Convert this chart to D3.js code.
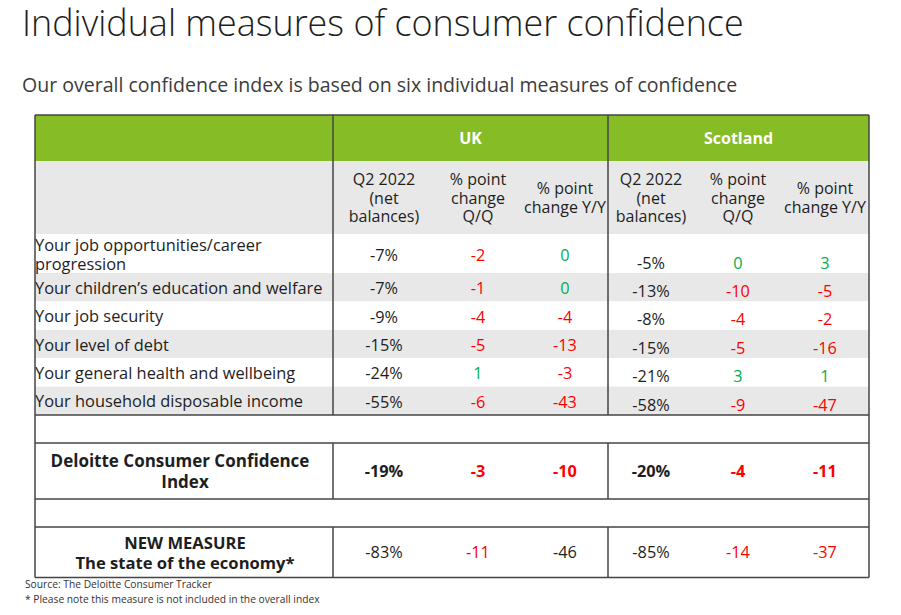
<!DOCTYPE html>
<html><head><meta charset="utf-8">
<script src="https://cdn.jsdelivr.net/npm/d3@7"></script>
<style>html,body{margin:0;padding:0;background:#fff;} svg{display:block;font-family:"Open Sans",sans-serif;}</style>
</head><body><svg id="c" width="901" height="615"></svg>
<script>
// ---------- data ----------
const title = "Individual measures of consumer confidence";
const subtitle = "Our overall confidence index is based on six individual measures of confidence";
const regions = ["UK", "Scotland"];
const columnHeaders = [["Q2 2022", "(net", "balances)"], ["% point", "change", "Q/Q"], ["% point", "change Y/Y"]];
const measures = [
  ["Your job opportunities/career", "progression"],
  ["Your children\u2019s education and welfare"],
  ["Your job security"],
  ["Your level of debt"],
  ["Your general health and wellbeing"],
  ["Your household disposable income"]
];
const ukLevel = [-7, -7, -9, -15, -24, -55];
const ukQQ    = [-2, -1, -4, -5, 1, -6];
const ukYY    = [0, 0, -4, -13, -3, -43];
const scLevel = [-5, -13, -8, -15, -21, -58];
const scQQ    = [0, -10, -4, -5, 3, -9];
const scYY    = [3, -5, -2, -16, 1, -47];
const indexLabel = ["Deloitte Consumer Confidence", "Index"];
const indexUK = [-19, -3, -10];
const indexSC = [-20, -4, -11];
const economyLabel = ["NEW MEASURE", "The state of the economy*"];
const economyUK = [-83, -11, -46];
const economySC = [-85, -14, -37];
const notes = ["Source: The Deloitte Consumer Tracker", "* Please note this measure is not included in the overall index"];

// ---------- layout ----------
const svg = d3.select("#c");
const GREEN = "#86BC25", GRAY = "#E8E8E8", RED = "#FF0000", POS = "#00B050", INK = "#1e1e1e", LINE = "#454545";
const X0 = 35, X1 = 869, XD1 = 333, XD2 = 608;
const Y0 = 115, YG = 161, YH = 234;
const colKeys = ["ukLevel", "ukQQ", "ukYY", "scLevel", "scQQ", "scYY"];
const xCol = d3.scaleOrdinal().domain(colKeys).range([384, 478, 565, 651, 738, 825]);
const xRegion = d3.scaleOrdinal().domain(regions).range([(XD1 + XD2) / 2, (XD2 + X1) / 2]);

// row heights from line counts
const rowH = measures.map(m => 28.4 + 10.6 * (m.length - 1));
const rowTops = [YH, ...d3.cumsum(rowH).map(v => YH + v)];
const yRowTop = d3.scaleOrdinal().domain(d3.range(measures.length)).range(rowTops);
const YD = rowTops[measures.length];          // bottom of data rows
const blank1 = [YD, YD + 28];
const idxRow = [blank1[1], blank1[1] + 56];
const blank2 = [idxRow[1], idxRow[1] + 28];
const ecoRow = [blank2[1], 577.5];

// title
svg.append("text").attr("x", 22).attr("y", 36).attr("font-size", 35.9).attr("font-weight", 300)
  .attr("fill", INK).text(title);
svg.append("text").attr("x", 22).attr("y", 92).attr("font-size", 19.55).attr("font-weight", 400)
  .attr("fill", "#3c3c3c").text(subtitle);

// backgrounds
svg.append("rect").attr("x", X0).attr("y", Y0).attr("width", X1 - X0).attr("height", YG - Y0).attr("fill", GREEN);
svg.append("rect").attr("x", X0).attr("y", YG).attr("width", X1 - X0).attr("height", YH - YG).attr("fill", GRAY);
svg.append("g").selectAll("rect").data(measures).join("rect")
  .attr("x", X0).attr("y", (d, i) => yRowTop(i)).attr("width", X1 - X0).attr("height", (d, i) => rowH[i])
  .attr("fill", (d, i) => i % 2 ? GRAY : "#fff");

// region headers
svg.append("g").selectAll("text").data(regions).join("text")
  .attr("x", d => xRegion(d)).attr("y", (Y0 + YG) / 2).attr("dominant-baseline", "central")
  .attr("text-anchor", "middle").attr("font-size", 16).attr("font-weight", 700).attr("fill", "#fff").text(d => d);

// helper for multi-line centered text (one text element, tspans per line)
function lines(g, arr, x, cy, opts) {
  const lh = opts.lh || 18.5;
  const t = g.append("text").attr("text-anchor", opts.anchor || "middle")
    .attr("font-size", opts.size || 16).attr("font-weight", opts.weight || 400)
    .attr("fill", opts.fill || INK);
  arr.forEach((s, i) => {
    t.append("tspan").attr("x", x + (opts.dx ? opts.dx[i] || 0 : 0))
      .attr("y", cy + (i - (arr.length - 1) / 2) * lh)
      .attr("dominant-baseline", "central").text(s);
  });
}

// column headers
const hdr = svg.append("g");
colKeys.forEach((k, i) => lines(hdr, columnHeaders[i % 3], xCol(k), (YG + YH) / 2, {lh: 18.5}));

// row labels
const lab = svg.append("g");
measures.forEach((m, i) => lines(lab, m, X0, yRowTop(i) + rowH[i] / 2, {anchor: "start", lh: 19, size: 16.4}));

// values
const colorOf = (v, isLevel) => isLevel ? INK : (v < 0 ? RED : POS);
const fmt = (v, isLevel) => isLevel ? v + "%" : String(v);
const cols = [ukLevel, ukQQ, ukYY, scLevel, scQQ, scYY];
const vals = svg.append("g");
cols.forEach((arr, c) => {
  vals.selectAll(null).data(arr).join("text")
    .attr("x", xCol(colKeys[c]))
    .attr("y", (d, i) => c < 3 ? yRowTop(i) + rowH[i] / 2 + 1 : yRowTop(i) + rowH[i] - 10.5)
    .attr("dominant-baseline", "central").attr("text-anchor", "middle").attr("font-size", 16.3)
    .attr("fill", d => colorOf(d, c % 3 === 0)).text(d => fmt(d, c % 3 === 0));
});

// index row
const idxG = svg.append("g");
const idxCy = (idxRow[0] + idxRow[1]) / 2;
lines(idxG, indexLabel, (X0 + XD1) / 2 + 1, idxCy, {weight: 700, lh: 20.5, size: 17, dx: [-5, 0]});
[...indexUK, ...indexSC].forEach((v, c) => {
  idxG.append("text").attr("x", xCol(colKeys[c])).attr("y", idxCy).attr("dominant-baseline", "central")
    .attr("text-anchor", "middle").attr("font-size", 16.3).attr("font-weight", 700)
    .attr("fill", colorOf(v, c % 3 === 0)).text(fmt(v, c % 3 === 0));
});

// economy row
const ecoG = svg.append("g");
const ecoCy = (ecoRow[0] + ecoRow[1]) / 2;
lines(ecoG, economyLabel, (X0 + XD1) / 2 + 1, ecoCy, {weight: 700, lh: 20.5, size: 16.6});
const neutralEco = new Set([2]); // UK Y/Y shown in black in the source
[...economyUK, ...economySC].forEach((v, c) => {
  ecoG.append("text").attr("x", xCol(colKeys[c])).attr("y", ecoCy).attr("dominant-baseline", "central")
    .attr("text-anchor", "middle").attr("font-size", 16.3)
    .attr("fill", neutralEco.has(c) ? INK : colorOf(v, c % 3 === 0)).text(fmt(v, c % 3 === 0));
});

// grid lines
const gl = svg.append("g").attr("stroke", LINE).attr("stroke-width", 1.5).attr("fill", "none");
const hLines = [Y0, YD, blank1[1], idxRow[1], blank2[1], ecoRow[1]];
hLines.forEach(y => gl.append("line").attr("x1", X0).attr("x2", X1).attr("y1", y).attr("y2", y));
[X0, X1].forEach(x => gl.append("line").attr("x1", x).attr("x2", x).attr("y1", Y0).attr("y2", ecoRow[1]));
[XD1, XD2].forEach(x => {
  [[Y0, YD], idxRow, ecoRow].forEach(([a, b]) =>
    gl.append("line").attr("x1", x).attr("x2", x).attr("y1", a).attr("y2", b));
});

// notes
svg.append("g").selectAll("text").data(notes).join("text")
  .attr("x", 25).attr("y", (d, i) => 588 + i * 15).attr("font-size", 10.25).attr("fill", "#333").text(d => d);
</script></body></html>
